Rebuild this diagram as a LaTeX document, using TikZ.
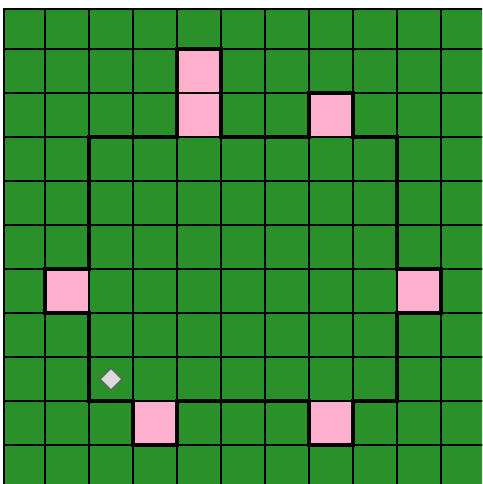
\documentclass[tikz,border=0pt]{standalone}
\usepackage{xcolor}
\usetikzlibrary{shapes.geometric}

\definecolor{grass}{HTML}{2A912A}
\definecolor{tilepink}{HTML}{FFB0CC}

\begin{document}
\begin{tikzpicture}[x=1cm, y=-1cm,
  gridline/.style={line width=1.3pt, black},
  gridedge/.style={line width=1.9pt, olive!75!black},
  tile/.style={fill=tilepink},
  fence/.style={line width=3.2pt, black, line join=miter, line cap=rect},
  marker/.style={diamond, draw=gray!75!black, fill=gray!28, line width=0.7pt, minimum size=0.5cm, inner sep=0pt}
]
  \useasboundingbox (-0.0227,-0.1136) rectangle (10.932,10.886);
  \clip (-0.0227,-0.1136) rectangle (10.932,10.886);

  % field
  \fill[grass] (0.068,0.091) rectangle (11,11);

  % pink tiles
  \foreach \c/\r in {4/1, 4/2, 7/2, 1/6, 9/6, 3/9, 7/9}
    \fill[tile] (\c,\r) rectangle ++(1,1);

  % grid
  \foreach \k in {1,...,10} {
    \draw[gridedge] (\k,0.091) -- (\k,11);
    \draw[gridedge] (0.068,\k) -- (11,\k);
  }
  \foreach \k in {1,...,10} {
    \draw[gridline] (\k,0.091) -- (\k,11);
    \draw[gridline] (0.068,\k) -- (11,\k);
  }
  \draw[gridline] (0.068,11) -- (0.068,0.091) -- (11,0.091);

  % boundary
  \draw[fence] (2,3) -- (4,3) -- (4,1) -- (5,1) -- (5,3) -- (7,3) -- (7,2)
    -- (8,2) -- (8,3) -- (9,3) -- (9,6) -- (10,6) -- (10,7) -- (9,7)
    -- (9,9) -- (8,9) -- (8,10) -- (7,10) -- (7,9) -- (4,9) -- (4,10)
    -- (3,10) -- (3,9) -- (2,9) -- (2,7) -- (1,7) -- (1,6) -- (2,6) -- cycle;

  \node[marker] (robot) at (2.5,8.5) {};
\end{tikzpicture}
\end{document}
